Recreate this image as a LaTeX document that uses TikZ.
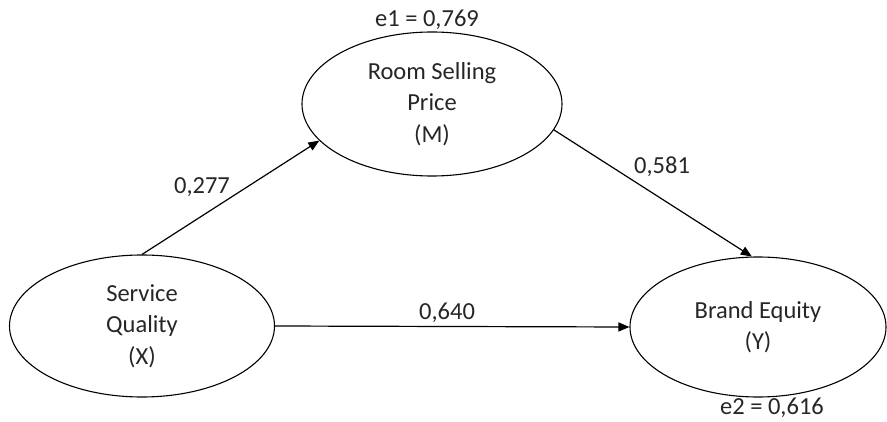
\documentclass[tikz,border=0pt]{standalone}
\usepackage{fontspec}
\setmainfont{Carlito}
\usetikzlibrary{shapes.geometric,arrows.meta}
\begin{document}
\begin{tikzpicture}[x=1pt,y=-1pt,
  lat/.style={ellipse,draw,line width=1.1pt,inner sep=0pt,align=center,
    font=\fontsize{24.5}{31.5}\selectfont,text=black!85},
  lbl/.style={font=\fontsize{24.5}{29}\selectfont,text=black!85,inner sep=0pt},
  arr/.style={line width=1.2pt,-{Triangle[length=11pt,width=9pt]}}]
\useasboundingbox (0,0) rectangle (887,422);
\node[lat,minimum width=265pt,minimum height=142pt] (sq) at (142,326) {Service\\Quality\\(X)};
\node[lat,minimum width=260pt,minimum height=144pt] (rsp) at (432,104) {Room Selling\\Price\\(M)};
\node[lat,minimum width=256pt,minimum height=140pt] (be) at (758,327) {Brand Equity\\(Y)};
\node[lbl] (e1) at (427,20) {e1 = 0,769};
\node[lbl] (e2) at (772,408) {e2 = 0,616};
\draw[arr] (sq.north) -- (rsp.198);
\draw[arr] (rsp.348) -- (be.95);
\draw[arr] (sq.east) -- (be.west);
\node[lbl] (l1) at (202,187) {0,277};
\node[lbl] (l2) at (662,167) {0,581};
\node[lbl] (l3) at (447,313) {0,640};
\end{tikzpicture}
\end{document}
